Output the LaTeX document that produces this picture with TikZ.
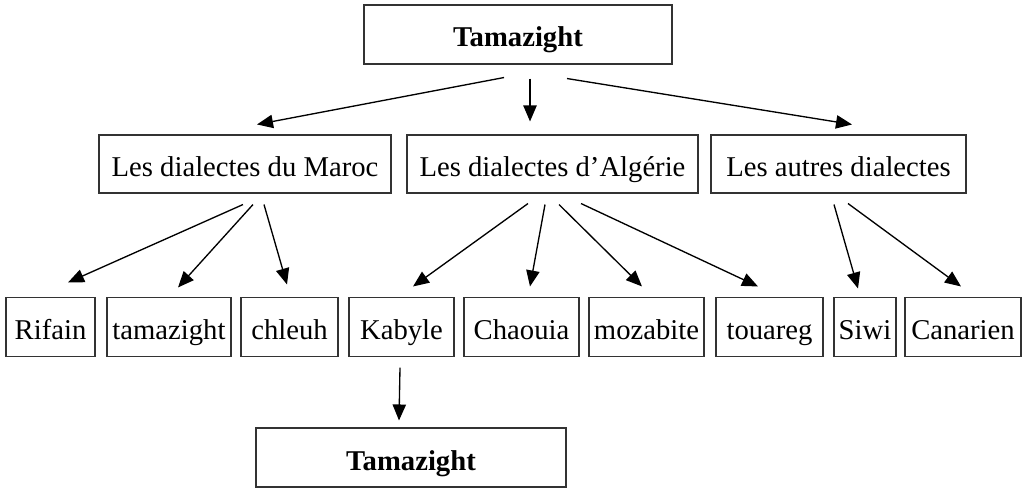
\documentclass[tikz,border=0pt]{standalone}
\usepackage{fontspec}
\setmainfont{Liberation Serif}
\usepackage{tikz}
\usetikzlibrary{arrows.meta}
\tikzstyle{block} = [rectangle, draw=black!80, line width=0.8pt, inner sep=0pt,
    font=\fontsize{21.5}{26}\selectfont, text height=22.5pt, text depth=3.75pt,
    minimum height=59*0.75pt]
\tikzstyle{titleblock} = [block, font=\fontsize{21.5}{26}\selectfont\bfseries]
\tikzstyle{arrow} = [draw, -{Triangle[length=12pt,width=10pt]}, line width=1pt]

\begin{document}
\begin{tikzpicture}[x=0.75pt, y=-0.75pt]
			\useasboundingbox (0,0) rectangle (1027,488);
			% Place nodes
			\node [titleblock, minimum width=308*0.75pt] (root) at (518,34.5) {Tamazight};
			\node [block, minimum width=292*0.75pt, minimum height=58*0.75pt] (maroc) at (245,164) {Les dialectes du Maroc};
			\node [block, minimum width=291*0.75pt, minimum height=58*0.75pt] (algerie) at (552.5,164) {Les dialectes d’Algérie};
			\node [block, minimum width=255*0.75pt, minimum height=58*0.75pt] (autres) at (838.5,164) {Les autres dialectes};

			\node [block, minimum width=89*0.75pt] (rifain) at (50.5,327) {Rifain};
			\node [block, minimum width=124*0.75pt] (tamazight) at (169,327) {tamazight};
			\node [block, minimum width=97*0.75pt] (chleuh) at (289.5,327) {chleuh};
			\node [block, minimum width=105*0.75pt] (kabyle) at (401.5,327) {Kabyle};
			\node [block, minimum width=115*0.75pt] (chaouia) at (521.5,327) {Chaouia};
			\node [block, minimum width=115*0.75pt] (mozabite) at (646.5,327) {mozabite};
			\node [block, minimum width=107*0.75pt] (touareg) at (769.5,327) {touareg};
			\node [block, minimum width=62*0.75pt] (siwi) at (865,327) {Siwi};
			\node [block, minimum width=116*0.75pt] (canarien) at (963,327) {Canarien};

			\node [titleblock, minimum width=310*0.75pt] (kabyleRoot) at (411,457.5) {Tamazight};

			% Draw edges
			\path [arrow] ([shift={(-14,13)}]root.south) -- ([shift={(12,-10)}]maroc.north);
			\path [arrow] ([shift={(12,14)}]root.south) -- ([shift={(-22.5,-13)}]algerie.north);
			\path [arrow] ([shift={(49,14)}]root.south) -- ([shift={(13.5,-10)}]autres.north);

			\path [arrow] ([shift={(-2,11)}]maroc.south) -- ([shift={(17.5,-14.5)}]rifain.north);
			\path [arrow] ([shift={(8,11)}]maroc.south) -- ([shift={(9,-9.5)}]tamazight.north);
			\path [arrow] ([shift={(19,11)}]maroc.south) -- ([shift={(-2.5,-12.5)}]chleuh.north);

			\path [arrow] ([shift={(-24.5,10)}]algerie.south) -- ([shift={(11.5,-10.5)}]kabyle.north);
			\path [arrow] ([shift={(-7.5,11)}]algerie.south) -- ([shift={(8.5,-10.5)}]chaouia.north);
			\path [arrow] ([shift={(6.5,11)}]algerie.south) -- ([shift={(-4.5,-10.5)}]mozabite.north);
			\path [arrow] ([shift={(28.5,10)}]algerie.south) -- ([shift={(-11.5,-10.5)}]touareg.north);

			\path [arrow] ([shift={(-4.5,11)}]autres.south) -- ([shift={(-7,-8.5)}]siwi.north);
			\path [arrow] ([shift={(9.5,10)}]autres.south) -- ([shift={(-2,-10.5)}]canarien.north);

			\path [arrow] ([shift={(-1.5,10.5)}]kabyle.south) -- ([shift={(-12,-7)}]kabyleRoot.north);
\end{tikzpicture}
\end{document}
